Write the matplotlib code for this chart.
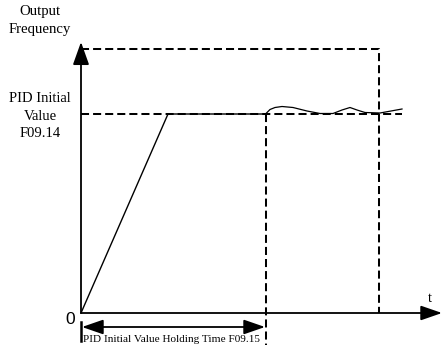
import matplotlib
matplotlib.use("Agg")
import matplotlib.pyplot as plt

# ---- data (time units / frequency units, origin at axis origin) ----
ramp_t = [0, 87, 185]
ramp_f = [0, 199, 199]
wave_t = [185, 189, 194, 201, 212, 226, 239, 252, 261, 269, 276, 284, 299, 321]
wave_f = [199.5, 203.5, 205.5, 206.5, 205.5, 202, 199.5, 199.5, 203, 205.5, 203, 200.5, 200, 204]
max_freq = 264
max_freq_end = 298
pid_level = 199
pid_line_end = 321
hold_time = 185
axis_t_max = 359
axis_f_max = 271

serif = "Liberation Serif"
W, H = 442, 347
fig = plt.figure(figsize=(W / 100, H / 100), dpi=100)
ax = fig.add_axes([0, 0, 1, 1])
ax.set_xlim(-81, W - 81)
ax.set_ylim(-(H - 313), 313)
ax.axis("off")

lw = 1.45
dash = (0, (4.0, 2.0))

# axes with arrows
ax.annotate("", xy=(0, axis_f_max), xytext=(0, 0),
            arrowprops=dict(arrowstyle="-|>,head_length=1.4,head_width=0.5", color="black", lw=1.3,
                            shrinkA=0, shrinkB=0))
ax.annotate("", xy=(axis_t_max + 2, 0), xytext=(0, 0),
            arrowprops=dict(arrowstyle="-|>,head_length=1.3,head_width=0.45", color="black", lw=1.3,
                            shrinkA=0, shrinkB=0))

# max frequency dashed box
ax.plot([0, max_freq_end, max_freq_end], [max_freq, max_freq, 0], color="black", lw=lw, ls=dash,
        dash_capstyle="butt")
# PID initial value dashed line
ax.plot([0, pid_line_end], [pid_level, pid_level], color="black", lw=lw, ls=dash)
# holding time vertical dashed
ax.plot([hold_time, hold_time], [pid_level, -32], color="black", lw=lw, ls=dash)

# output curve
ax.plot(ramp_t, ramp_f, color="black", lw=1.0)
ax.plot(wave_t, wave_f, color="black", lw=0.9)

# holding time arrow
ax.annotate("", xy=(1, -14), xytext=(hold_time - 1, -14),
            arrowprops=dict(arrowstyle="<|-|>,head_length=1.3,head_width=0.45", color="black", lw=1.3,
                            shrinkA=0, shrinkB=0))
ax.plot([0, 0], [-9, -28], color="black", lw=1.8)

# texts
ax.text(-41, 292.5, "Output\nFrequency", ha="center", va="center", family=serif, fontsize=10.6,
        linespacing=1.45)
ax.text(-41, 197, "PID Initial\nValue\nF09.14", ha="center", va="center", family=serif, fontsize=10.5,
        linespacing=1.45)
ax.text(-11, -6, "0", ha="center", va="center", family="Liberation Sans", fontsize=12.5)
ax.text(349, 15, "t", ha="center", va="center", family=serif, fontsize=10.5)
ax.text(2, -27, "PID Initial Value Holding Time F09.15", ha="left", va="center", family=serif,
        fontsize=8.1)

fig.savefig("out.png", dpi=100)
